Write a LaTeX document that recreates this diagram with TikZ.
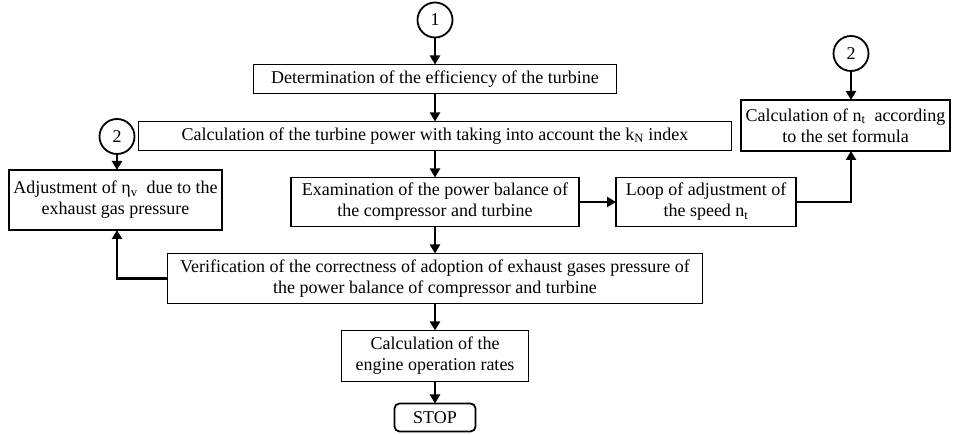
\documentclass[tikz,border=0pt]{standalone}
\usepackage{fontspec}
\setmainfont{Liberation Serif}
\usetikzlibrary{arrows.meta, positioning}

\begin{document}
\begin{tikzpicture}[
        x=1pt, y=1pt,
        font=\fontsize{18}{21}\selectfont,
        node distance=27pt,
        box/.style={rectangle, draw=black, line width=1.8pt, inner sep=2pt, outer sep=0pt, align=center},
        terminal/.style={box, rounded corners=5pt},
        connector/.style={circle, draw=black, line width=1.8pt, minimum size=35pt, inner sep=0pt, outer sep=0pt},
        arrow/.style={-{Triangle[width=10pt,length=9pt]}, line width=2.4pt}
    ]
    \useasboundingbox (0,0) rectangle (954,-435);

    % Nodes
    \node[connector] (start) at (435,-20) {1};

    \node[box, minimum width=363pt, minimum height=29pt, below=27pt of start] (efficiency) {Determination of the efficiency of the turbine};

    \node[box, minimum width=593pt, minimum height=29pt, below=28pt of efficiency] (power) {Calculation of the turbine power with taking into account the k\textsubscript{N} index};

    \node[box, minimum width=288pt, minimum height=49pt, below=27pt of power] (balance) {Examination of the power balance of\\the compressor and turbine};

    \node[box, minimum width=535pt, minimum height=50pt, below=27pt of balance] (verify) {Verification of the correctness of adoption of exhaust gases pressure of\\the power balance of compressor and turbine};

    \node[box, minimum width=187pt, minimum height=51pt, below=27pt of verify] (rates) {Calculation of the\\engine operation rates};

    \node[terminal, minimum width=81pt, minimum height=28pt, below=22pt of rates] (stop) {STOP};

    \node[box, minimum width=180pt, minimum height=49pt, right=37pt of balance] (loop) {Loop of adjustment of\\the speed n\textsubscript{t}};

    \node[box, minimum width=209pt, minimum height=51pt] (speed) at (845.5,-125.5) {Calculation of n\textsubscript{t}\ \ according\\to the set formula};

    \node[connector, above=29pt of speed, xshift=5.5pt] (jumpright) {2};

    \node[box, minimum width=213pt, minimum height=60pt] (adjust) at (115.5,-200) {Adjustment of η\textsubscript{v}\ \ due to the\\exhaust gas pressure};

    \node[connector, above=16pt of adjust, xshift=1.5pt] (jumpleft) {2};

    % Arrows
    \draw[arrow] (start) -- (efficiency);
    \draw[arrow] (efficiency) -- (power);
    \draw[arrow] (power) -- (balance);
    \draw[arrow] (balance) -- (verify);
    \draw[arrow] (verify) -- (rates);
    \draw[arrow] (rates) -- (stop);
    \draw[arrow] (balance) -- (loop);
    \draw[arrow] (loop.east) -| (jumpright |- speed.south);
    \draw[arrow] (jumpright) -- (jumpright |- speed.north);
    \draw[arrow] (jumpleft) -- (jumpleft |- adjust.north);
    \draw[arrow] (verify.west) -| (jumpleft |- adjust.south);

\end{tikzpicture}
\end{document}
